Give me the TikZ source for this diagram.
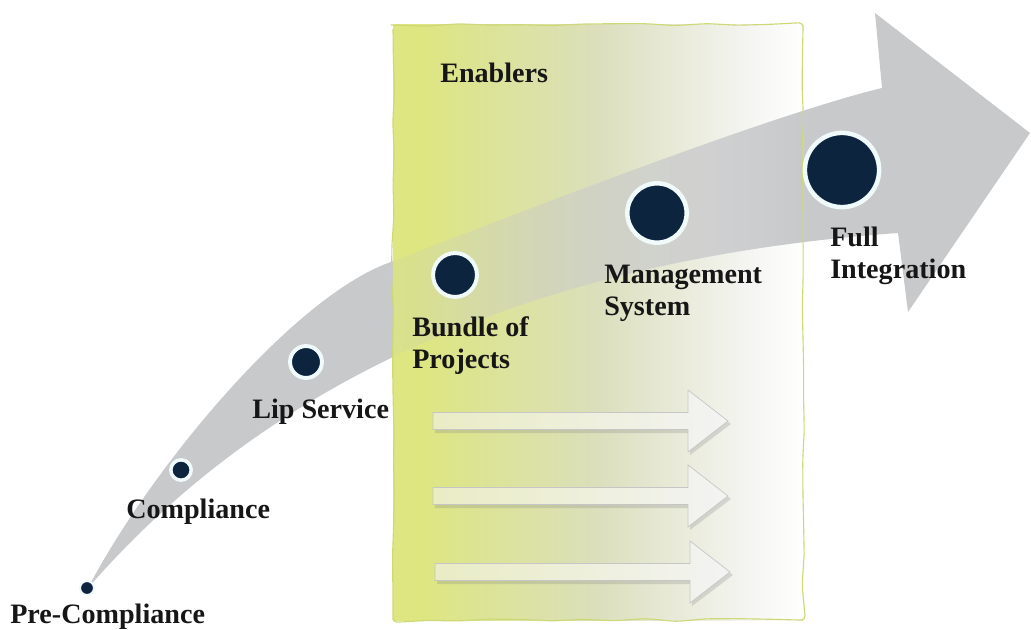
\documentclass[tikz,border=0pt]{standalone}
\usepackage{fontspec}
\setmainfont{Liberation Serif}
\usetikzlibrary{fadings}
\usetikzlibrary{decorations.pathmorphing}

\definecolor{arrowgray}{RGB}{200,201,203}
\definecolor{dotnavy}{RGB}{12,36,62}
\definecolor{ringwhite}{RGB}{240,250,250}
\definecolor{boxgreen}{RGB}{221,230,128}
\definecolor{boxmid}{RGB}{219,223,188}
\definecolor{boxlight}{RGB}{244,244,241}
\definecolor{boxedge}{RGB}{206,216,118}
\definecolor{labelblack}{RGB}{22,22,22}
\definecolor{enablerleft}{RGB}{233,236,196}
\definecolor{enablerright}{RGB}{243,243,243}

% box colour runs from yellow-green to white (path is mapped onto 25bp..75bp)
\pgfdeclarehorizontalshading{enablershade}{100bp}{color(0bp)=(boxgreen); color(28bp)=(boxgreen);
  color(50bp)=(boxmid); color(68bp)=(boxlight); color(75bp)=(white); color(100bp)=(white)}
% the arrow only shows faintly through the left of the box
\tikzfading[name=bandfade, left color=transparent!85, right color=transparent!0]

\tikzset{
  stage/.style={anchor=base west, inner sep=0pt, align=left, text=labelblack,
    font=\fontsize{20}{22.5}\selectfont\bfseries},
  milestone/.style={circle, fill=dotnavy, draw=ringwhite, inner sep=0pt},
  enabler/.style={draw=gray!45, line width=0.5pt, left color=enablerleft, right color=enablerright}
}

% outline of the big curved arrow, #1 = what to do with it
\newcommand\bigarrow[1]{
  \path[#1] (88,588) .. controls (150,470) and (290,300) .. (388,263)
    .. controls (488,225) and (762,117) .. (882,88)
    -- (875,13) -- (1030,133) -- (908,312) -- (898,233)
    .. controls (520,260) and (260,390) .. (88,588) -- cycle;
}

% block arrow inside the box: #1 = y of the centre line, #2 = shift to the right
\newcommand\enablerarrow[2]{
  \fill[gray, opacity=0.25] (435+#2,#1-6) -- (690+#2,#1-6) -- (690+#2,#1-28) -- (731+#2,#1+3)
    -- (690+#2,#1+34) -- (690+#2,#1+12) -- (435+#2,#1+12) -- cycle;
  \path[enabler] (433+#2,#1-8.5) -- (688+#2,#1-8.5) -- (688+#2,#1-31) -- (728+#2,#1)
    -- (688+#2,#1+31) -- (688+#2,#1+8.5) -- (433+#2,#1+8.5) -- cycle;
}

\begin{document}
\begin{tikzpicture}[x=0.025cm, y=-0.025cm]
 \useasboundingbox (0,0) rectangle (1031,630);

 \bigarrow{fill=arrowgray}

 % enablers box, the arrow shining through it
 \shade[shading=enablershade] (393,25) rectangle (803,620);
 \begin{scope}
   \bigarrow{clip}
   \fill[arrowgray, path fading=bandfade] (393,25) rectangle (803,620);
 \end{scope}
 \draw[boxedge, line width=0.8pt, decorate,
   decoration={random steps, segment length=22, amplitude=1.1}, rounded corners=3pt]
   (393,25) rectangle (803,620);

 \enablerarrow{421}{0}
 \enablerarrow{496}{0}
 \enablerarrow{572}{2}

 \node[stage] (enablers) at (440,83) {Enablers};

 % milestones along the arrow
 \node[milestone, minimum size=9.9pt, line width=1.4pt] (pre) at (87,588) {};
 \node[milestone, minimum size=14.5pt, line width=2.5pt] (comp) at (181,470) {};
 \node[milestone, minimum size=22.7pt, line width=2.8pt] (lip) at (306,362) {};
 \node[milestone, minimum size=31.2pt, line width=2.8pt] (bundle) at (455,275) {};
 \node[milestone, minimum size=42.2pt, line width=3.2pt] (mgmt) at (657,213) {};
 \node[milestone, minimum size=52.8pt, line width=3.2pt] (full) at (842,170) {};

 \node[stage] (prelabel) at (10,623) {Pre-Compliance};
 \node[stage] (complabel) at (126,518) {Compliance};
 \node[stage] (liplabel) at (252,418) {Lip Service};
 \node[stage] (bundlelabel) at (412,368) {Bundle of\\Projects};
 \node[stage] (mgmtlabel) at (604,315) {Management\\System};
 \node[stage] (fulllabel) at (830,278) {Full\\Integration};
\end{tikzpicture}
\end{document}
